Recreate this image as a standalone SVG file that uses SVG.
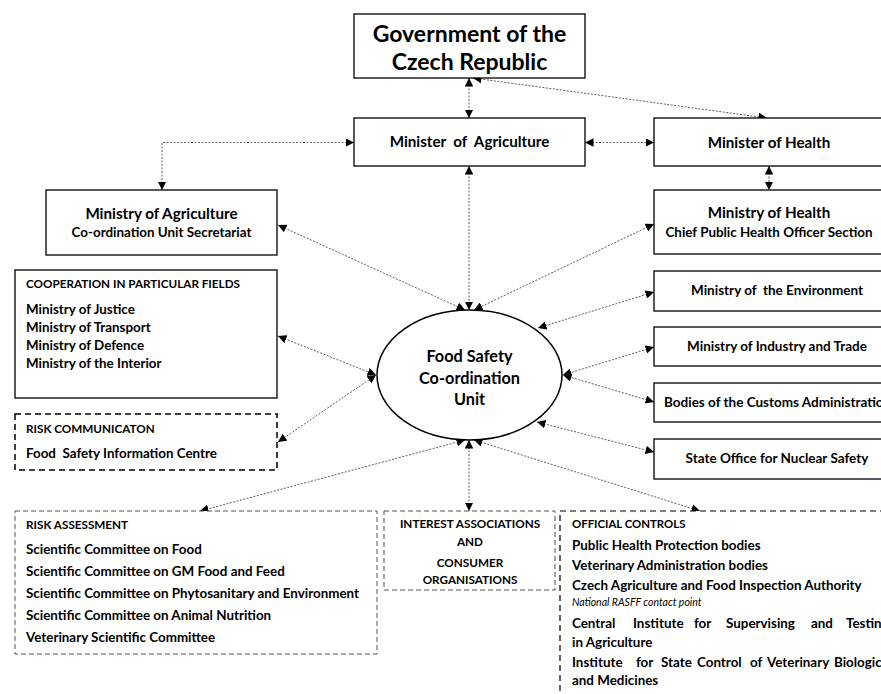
<svg xmlns="http://www.w3.org/2000/svg" width="881" height="694" viewBox="0 0 881 694">
<defs>
<marker id="ah" viewBox="0 0 10 10" refX="10" refY="5" markerWidth="8.5" markerHeight="8.5" markerUnits="userSpaceOnUse" orient="auto-start-reverse">
<path d="M0,0 L10,5 L0,10 z" fill="#000"/>
</marker>
<style>
.box{fill:#fff;stroke:#000;stroke-width:1.3}
.dbox{fill:#fff;stroke:#000;stroke-width:1.5;stroke-dasharray:6 4}
.gbox{fill:#fff;stroke:#555;stroke-width:1;stroke-dasharray:5 3}
.ell{fill:#fff;stroke:#000;stroke-width:1.5}
.c{fill:none;stroke:#333;stroke-width:0.8;stroke-dasharray:2 1.5;marker-start:url(#ah);marker-end:url(#ah)}
text{font-family:Lato,"Liberation Sans",sans-serif;font-weight:bold;fill:#000}
.h{font-size:15.2px}
.t{font-size:13.4px}
.r{font-size:13.5px}
.cap{font-size:11.7px}
.mid{text-anchor:middle}
.it{font-style:italic;font-weight:normal;font-size:10.5px}
.e{font-size:16.3px}
</style>
</defs>
<g id="connectors">
<line class="c" x1="469" y1="78" x2="469" y2="118"/>
<line class="c" x1="473" y1="78" x2="767" y2="118"/>
<polyline class="c" points="354,142.5 162,142.5 162,190"/>
<line class="c" x1="585" y1="142.5" x2="654" y2="142.5"/>
<line class="c" x1="769" y1="166" x2="769" y2="190"/>
<line class="c" x1="469" y1="166" x2="469" y2="310"/>
<line class="c" x1="278" y1="225" x2="465" y2="310"/>
<line class="c" x1="654" y1="224" x2="474" y2="310"/>
<line class="c" x1="654" y1="292" x2="538" y2="328"/>
<line class="c" x1="654" y1="347" x2="563" y2="375"/>
<line class="c" x1="654" y1="402" x2="563" y2="375"/>
<line class="c" x1="654" y1="452" x2="537" y2="422"/>
<line class="c" x1="278" y1="336" x2="376" y2="375"/>
<line class="c" x1="278" y1="442" x2="376" y2="375"/>
<line class="c" x1="465" y1="440" x2="200" y2="511"/>
<line class="c" x1="469" y1="440" x2="469" y2="511"/>
<line class="c" x1="474" y1="440" x2="700" y2="511"/>
</g>
<g id="government">
<rect class="box" x="354" y="14" width="231" height="64"/>
<text x="469.5" y="42" class="mid" style="font-size:23px">Government of the</text>
<text x="469.5" y="70" class="mid" style="font-size:23px">Czech Republic</text>
</g>
<g id="minister-agriculture">
<rect class="box" x="354" y="118" width="231" height="48"/>
<text x="469.5" y="147" class="mid h" xml:space="preserve">Minister  of  Agriculture</text>
</g>
<g id="minister-health">
<rect class="box" x="654" y="118" width="230" height="48"/>
<text x="769" y="148" class="mid h">Minister of Health</text>
</g>
<g id="ministry-agriculture">
<rect class="box" x="46" y="190" width="231" height="65"/>
<text x="161.5" y="219" class="mid h">Ministry of Agriculture</text>
<text x="161.5" y="237" class="mid t">Co-ordination Unit Secretariat</text>
</g>
<g id="ministry-health">
<rect class="box" x="654" y="190" width="230" height="64"/>
<text x="769" y="218" class="mid h">Ministry of Health</text>
<text x="769" y="237" class="mid t">Chief Public Health Officer Section</text>
</g>
<g id="environment">
<rect class="box" x="654" y="271" width="230" height="40"/>
<text x="777" y="295" class="mid r" xml:space="preserve">Ministry of  the Environment</text>
</g>
<g id="industry">
<rect class="box" x="654" y="327" width="230" height="39"/>
<text x="777" y="351" class="mid r">Ministry of Industry and Trade</text>
</g>
<g id="customs">
<rect class="box" x="654" y="383" width="230" height="39"/>
<text x="664" y="407" class="r">Bodies of the Customs Administration</text>
</g>
<g id="nuclear">
<rect class="box" x="654" y="439" width="230" height="40"/>
<text x="777" y="463" class="mid r">State Office for Nuclear Safety</text>
</g>
<g id="cooperation">
<rect class="box" x="15" y="270" width="262" height="128"/>
<text x="26" y="288" class="cap">COOPERATION IN PARTICULAR FIELDS</text>
<text x="26" y="314" class="t">Ministry of Justice</text>
<text x="26" y="332" class="t">Ministry of Transport</text>
<text x="26" y="350" class="t">Ministry of Defence</text>
<text x="26" y="368" class="t">Ministry of the Interior</text>
</g>
<g id="risk-communication">
<rect class="dbox" x="15" y="414" width="262" height="56"/>
<text x="26" y="433" class="cap">RISK COMMUNICATON</text>
<text x="26" y="458" class="t" xml:space="preserve">Food  Safety Information Centre</text>
</g>
<g id="food-safety-unit">
<ellipse class="ell" cx="469.5" cy="375" rx="92.5" ry="65"/>
<text x="469.5" y="362" class="mid e">Food Safety</text>
<text x="469.5" y="384" class="mid e">Co-ordination</text>
<text x="469.5" y="405" class="mid e">Unit</text>
</g>
<g id="risk-assessment">
<rect class="gbox" x="15" y="511" width="362" height="143"/>
<text x="26" y="529" class="cap">RISK ASSESSMENT</text>
<text x="26" y="554" class="t">Scientific Committee on Food</text>
<text x="26" y="576" class="t">Scientific Committee on GM Food and Feed</text>
<text x="26" y="598" class="t">Scientific Committee on Phytosanitary and Environment</text>
<text x="26" y="620" class="t">Scientific Committee on Animal Nutrition</text>
<text x="26" y="642" class="t">Veterinary Scientific Committee</text>
</g>
<g id="interest-associations">
<rect class="gbox" x="384" y="511" width="171" height="79"/>
<text x="470" y="528" class="mid cap">INTEREST ASSOCIATIONS</text>
<text x="470" y="546" class="mid cap">AND</text>
<text x="470" y="567" class="mid cap">CONSUMER</text>
<text x="470" y="584" class="mid cap">ORGANISATIONS</text>
</g>
<g id="official-controls">
<rect class="dbox" x="560" y="511" width="340" height="200" style="stroke-width:1.2"/>
<text x="572" y="528" class="cap" style="font-size:11.4px">OFFICIAL CONTROLS</text>
<text x="572" y="550" class="t">Public Health Protection bodies</text>
<text x="572" y="570" class="t">Veterinary Administration bodies</text>
<text x="572" y="590" class="t">Czech Agriculture and Food Inspection Authority</text>
<text x="572" y="606" class="it">National RASFF contact point</text>
<text y="628" class="t"><tspan x="572">Central</tspan><tspan x="633">Institute</tspan><tspan x="694">for</tspan><tspan x="726">Supervising</tspan><tspan x="811">and</tspan><tspan x="846">Testing</tspan></text>
<text x="572" y="647" class="t">in Agriculture</text>
<text y="667" class="t"><tspan x="572">Institute</tspan><tspan x="636">for</tspan><tspan x="661">State</tspan><tspan x="697">Control</tspan><tspan x="750">of</tspan><tspan x="767">Veterinary</tspan><tspan x="834">Biologicals</tspan></text>
<text x="572" y="685" class="t">and Medicines</text>
</g>
</svg>
